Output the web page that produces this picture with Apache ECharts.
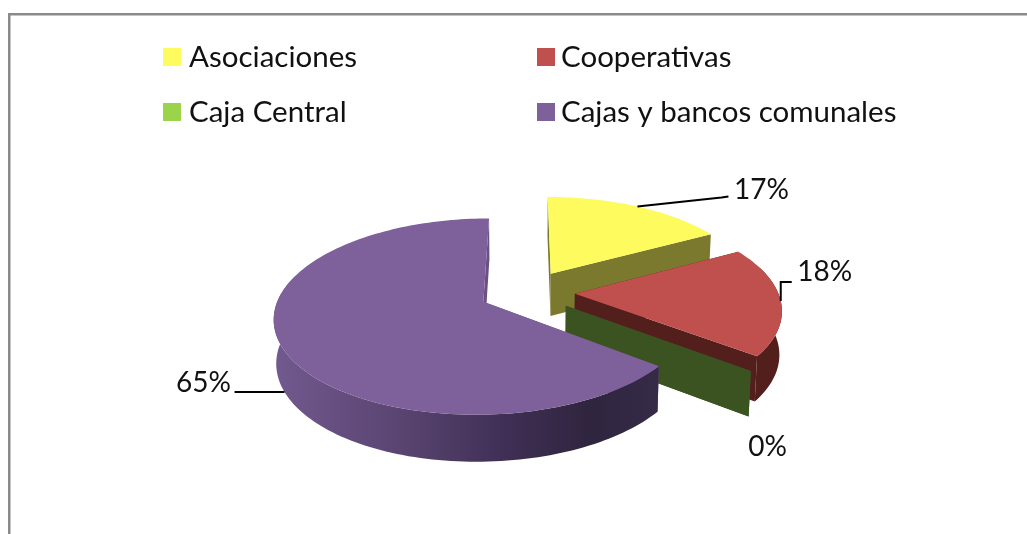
<!DOCTYPE html>
<html><head><meta charset="utf-8">
<style>html,body{margin:0;padding:0;background:#fff;overflow:hidden}#c{width:1027px;height:534px}</style>
<script src="https://cdn.jsdelivr.net/npm/echarts@6/dist/echarts.min.js"></script>
</head><body><div id="c"></div>
<script>
const categories = ['Asociaciones', 'Cooperativas', 'Caja Central', 'Cajas y bancos comunales'];
const values = [17.0, 18.4, 0, 64.5];
const topColors = ['#FDFB5E', '#C0504D', '#9BD44B', '#7E609B'];
const sideColors = ['#7B792D', '#521F1D', '#3B5320', '#35294A'];
const labelTexts = ['17%', '18%', '0%', '65%'];

const FONT = 'Lato';
const FS = 28;
const LFS = 29.5;
const P = {cx: 527, cy: 292, R: 203, A: 93, k: 0.148, e: 0.236, D: 43};
const leaders = [
  {atDepth: false, line: [[0,0],[84,-9],[91,-10]], text: [124,-17]},
  {atDepth: false, line: [[0,0],[0,-19],[11,-19]], text: [44,-29]},
  {atDepth: true,  line: [], text: [19,30]},
  {atDepth: true,  line: [[0,0],[-50,0]], text: [-81,-9]}
];
const total = values.reduce((a, b) => a + b, 0);

function project(X, Y, low) {
  const s = 1 / (1 - P.k * Y);
  let x = P.cx + P.R * X * s, y = P.cy + P.A * Y * s;
  if (low) { x = P.cx + (x - P.cx) * 0.99; y += P.D * Math.sqrt(s); }
  return [x, y];
}
function sliceGeom(i) {
  let before = 0;
  for (let j = 0; j < i; j++) before += values[j];
  const a0 = before / total * Math.PI * 2;
  const a1 = (before + values[i]) / total * Math.PI * 2;
  const mid = (a0 + a1) / 2;
  return {a0, a1, mid, ox: P.e * Math.sin(mid), oy: -P.e * Math.cos(mid)};
}
function rim(g, a, low) {
  return project(g.ox + Math.sin(a), g.oy - Math.cos(a), low);
}
function renderSlice(i) {
  const g = sliceGeom(i);
  const n = Math.max(1, Math.ceil((g.a1 - g.a0) / (Math.PI / 120)));
  const topArc = [], lowArc = [], frontTop = [], frontLow = [];
  for (let t = 0; t <= n; t++) {
    const a = g.a0 + (g.a1 - g.a0) * t / n;
    const pt = rim(g, a, false), pl = rim(g, a, true);
    topArc.push(pt);
    lowArc.push(pl);
    if (Math.cos(a) < 0.3) { frontTop.push(pt); frontLow.push(pl); }
  }
  const aT = project(g.ox, g.oy, false), aL = project(g.ox, g.oy, true);
  const side = sideColors[i];
  const rimFill = i === 3
    ? new echarts.graphic.LinearGradient(0, 0, 1, 0, [
        {offset: 0, color: '#72598F'}, {offset: 0.35, color: '#58436F'},
        {offset: 0.6, color: '#3F2F55'}, {offset: 0.82, color: '#30253F'},
        {offset: 1, color: '#362B47'}])
    : side;
  const poly = (points, fill) => ({type: 'polygon', shape: {points}, style: {fill, stroke: 'none'}, silent: true});
  const children = [
    poly([aT, topArc[0], lowArc[0], aL], i === 3 ? '#6A5085' : side),
    poly([aT, topArc[n], lowArc[n], aL], i === 3 ? '#6A5085' : side)
  ];
  if (frontTop.length > 1) children.push(poly(frontTop.concat(frontLow.slice().reverse()), rimFill));
  if (values[i] > 0) children.push(poly([aT].concat(topArc), topColors[i]));
  const L = leaders[i];
  const anchor = rim(g, g.mid, L.atDepth);
  if (L.line.length) {
    children.push({type: 'polyline', shape: {points: L.line.map(o => [anchor[0] + o[0], anchor[1] + o[1]])},
      style: {stroke: '#000', lineWidth: 2, fill: 'none'}, silent: true});
  }
  children.push({type: 'text', style: {x: anchor[0] + L.text[0], y: anchor[1] + L.text[1], text: labelTexts[i],
    fontFamily: FONT, fontSize: FS, fill: '#111', align: 'center', verticalAlign: 'middle'}, silent: true});
  return {type: 'group', children};
}
const legendBase = {orient: 'vertical', icon: 'rect', itemWidth: 18, itemHeight: 18, itemGap: 25,
  top: 42, selectedMode: false, padding: 0, textStyle: {fontFamily: FONT, fontSize: LFS, color: '#111', padding: [0,0,0,3]}};
const chart = echarts.init(document.getElementById('c'), null, {renderer: 'canvas'});
chart.setOption({
  animation: false,
  backgroundColor: '#fff',
  graphic: [{type: 'rect', shape: {x: 9.25, y: 14.25, width: 1100, height: 700},
    style: {fill: 'none', stroke: '#8A8A8A', lineWidth: 2.5}, silent: true, z: -1}],
  legend: [
    Object.assign({}, legendBase, {left: 163, data: [categories[0], categories[2]]}),
    Object.assign({}, legendBase, {left: 537, data: [categories[1], categories[3]],
      textStyle: Object.assign({}, legendBase.textStyle, {padding: [0,0,0,1]})})
  ],
  series: categories.map((name, i) => ({
    type: 'custom', name, coordinateSystem: 'none', silent: true,
    itemStyle: {color: topColors[i]}, z: 2 + i,
    data: [{name, value: [values[i]]}],
    renderItem: () => renderSlice(i)
  }))
});
</script></body></html>
